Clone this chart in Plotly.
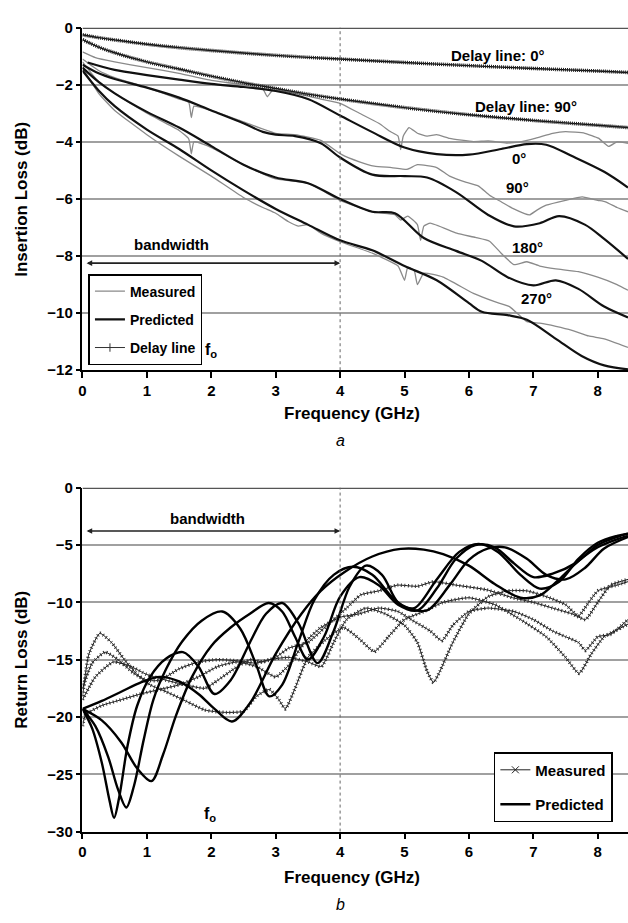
import plotly.graph_objects as go

FONT = "Liberation Sans, Arial, sans-serif"

# ---------------- Panel a : insertion loss (dB) ----------------
f_dl0 = [0, 0.25, 0.5, 1, 1.5, 2, 2.5, 3, 3.5, 4, 5, 6, 7, 8, 8.47]
il_dl0 = [-0.25, -0.35, -0.43, -0.58, -0.7, -0.8, -0.89, -0.97, -1.04, -1.1, -1.22, -1.33, -1.43, -1.52, -1.57]

f_dl90 = [0, 0.25, 0.5, 1, 1.5, 2, 2.5, 3, 3.5, 4, 5, 6, 7, 8, 8.47]
il_dl90 = [-0.42, -0.68, -0.88, -1.2, -1.45, -1.7, -1.93, -2.13, -2.33, -2.5, -2.8, -3.05, -3.25, -3.42, -3.5]

f_p0 = [0.08, 0.5, 1, 1.5, 2, 2.5, 3, 3.5, 4, 4.5, 5, 5.5, 6, 6.5, 6.9, 7.2, 7.6, 8.1, 8.47]
il_p0 = [-1.22, -1.48, -1.66, -1.82, -1.97, -2.08, -2.22, -2.5, -3.08, -3.66, -4.2, -4.43, -4.45, -4.25, -4.08, -4.1, -4.5, -5.05, -5.6]

f_m0 = [0, 0.2, 0.5, 1, 1.5, 2, 2.5, 2.8, 2.87, 2.95, 3.3, 3.7, 4.0, 4.3, 4.6, 4.78, 4.9, 4.94, 4.98, 5.07,
        5.2, 5.35, 5.5, 5.7, 6.07, 6.3, 6.58, 6.8, 7.04, 7.3, 7.5, 7.8, 8.01, 8.17, 8.3, 8.47]
il_m0 = [-0.85, -1.05, -1.2, -1.4, -1.6, -1.85, -2.0, -2.15, -2.42, -2.2, -2.3, -2.5, -2.65, -3.0, -3.35, -3.64, -3.8, -4.27, -3.8, -3.5,
         -3.7, -3.8, -3.75, -3.88, -3.99, -3.97, -4.04, -4.0, -3.87, -3.7, -3.64, -3.7, -3.87, -4.16, -4.0, -4.05]

f_p90 = [0, 0.25, 0.5, 1, 1.5, 2, 2.5, 2.8, 3, 3.3, 3.7, 4, 4.5, 5, 5.35, 5.8, 6.3, 6.7, 7.1, 7.4, 7.8, 8.1, 8.47]
il_p90 = [-1.3, -1.6, -1.8, -2.1, -2.45, -2.9, -3.35, -3.65, -3.75, -3.8, -4.05, -4.55, -5.15, -5.2, -5.25, -5.76, -6.56, -6.96, -6.85, -6.6, -6.9, -7.4, -8.1]

f_m90 = [0, 0.25, 0.5, 1, 1.5, 1.65, 1.69, 1.73, 2, 2.5, 3, 3.3, 3.7, 4.02, 4.3, 4.53, 4.8, 5.04, 5.2, 5.5, 5.7, 5.96,
         6.15, 6.32, 6.5, 6.68, 6.94, 7.05, 7.2, 7.5, 7.76, 8.0, 8.12, 8.3, 8.47]
il_m90 = [-1.1, -1.5, -1.75, -2.1, -2.5, -2.62, -3.15, -2.75, -2.9, -3.3, -3.7, -3.75, -3.95, -4.44, -4.7, -4.85, -4.9, -4.96, -4.8, -4.9, -5.2, -5.42,
          -5.55, -5.87, -6.1, -6.33, -6.56, -6.4, -6.22, -6.05, -5.93, -6.05, -6.1, -6.3, -6.45]

f_p180 = [0, 0.25, 0.5, 1, 1.5, 2, 2.5, 3, 3.5, 4, 4.5, 4.85, 5.3, 5.8, 6.2, 6.6, 7.0, 7.35, 7.7, 8.1, 8.47]
il_p180 = [-1.4, -1.9, -2.3, -2.95, -3.5, -4.15, -4.8, -5.25, -5.45, -6.0, -6.45, -6.5, -7.37, -7.82, -8.17, -8.74, -9.03, -8.85, -9.15, -9.77, -10.15]

f_m180 = [0, 0.25, 0.5, 1, 1.5, 1.65, 1.69, 1.73, 2, 2.5, 3, 3.5, 4, 4.5, 4.85, 4.94, 5.05, 5.2, 5.25, 5.3, 5.4,
          5.81, 6.1, 6.32, 6.5, 6.7, 6.9, 7.1, 7.35, 7.7, 8.0, 8.3, 8.47]
il_m180 = [-1.2, -1.9, -2.3, -3.0, -3.6, -3.9, -4.42, -4.0, -4.2, -4.8, -5.3, -5.45, -6.05, -6.45, -6.55, -6.74, -6.6, -6.9, -7.45, -6.95, -6.85,
           -7.2, -7.35, -7.48, -7.9, -8.3, -8.2, -8.35, -8.45, -8.55, -8.74, -9.0, -9.2]

f_p270 = [0, 0.25, 0.5, 1, 1.5, 2, 2.5, 3, 3.5, 4, 4.5, 5, 5.5, 6, 6.2, 6.6, 6.9, 7.35, 7.75, 8.1, 8.47]
il_p270 = [-1.5, -2.2, -2.75, -3.57, -4.25, -5.0, -5.7, -6.35, -6.9, -7.45, -7.8, -8.35, -8.85, -9.65, -9.95, -10.07, -10.23, -10.9, -11.5, -11.83, -11.97]

f_m270 = [0, 0.25, 0.5, 1, 1.5, 2, 2.5, 2.8, 3.0, 3.2, 3.35, 3.5, 3.7, 4, 4.5, 4.9, 5.0, 5.05, 5.15, 5.2, 5.3,
          5.6, 6.07, 6.4, 6.63, 6.9, 7.1, 7.35, 7.6, 7.86, 8.1, 8.47]
il_m270 = [-1.4, -2.3, -2.9, -3.75, -4.5, -5.2, -5.95, -6.3, -6.5, -6.8, -6.95, -6.9, -7.2, -7.5, -7.9, -8.35, -8.85, -8.4, -8.5, -9.0, -8.6,
           -8.74, -9.31, -9.6, -9.77, -10.3, -10.35, -10.46, -10.6, -10.8, -10.9, -11.2]

# ---------------- Panel b : return loss (dB) ----------------
f_pA = [0, 0.15, 0.3, 0.42, 0.49, 0.57, 0.7, 0.85, 1.05, 1.3, 1.56, 1.8, 2.05, 2.3, 2.6, 2.85, 3.1, 3.35, 3.65, 3.9,
        4.15, 4.4, 4.65, 4.9, 5.15, 5.5, 5.85, 6.15, 6.45, 6.8, 7.1, 7.4, 7.7, 8.0, 8.3, 8.47]
rl_pA = [-19.3, -21, -24, -27.3, -28.8, -27, -22.5, -19, -16.5, -14.9, -14.35, -15.6, -18, -16.8, -13.5, -11.0, -10.06, -11.8, -15.3, -12.5,
         -8.6, -6.8, -7.6, -10.0, -10.5, -8.0, -5.6, -4.9, -5.6, -7.6, -8.8, -8.2, -6.2, -4.8, -4.2, -4.0]

f_pB = [0, 0.2, 0.4, 0.55, 0.68, 0.8, 0.95, 1.1, 1.3, 1.55, 1.85, 2.17, 2.45, 2.7, 2.9, 3.1, 3.35, 3.6, 3.9, 4.2,
        4.5, 4.8, 5.0, 5.35, 5.7, 6.0, 6.3, 6.56, 6.9, 7.2, 7.5, 7.8, 8.1, 8.47]
rl_pB = [-19.3, -20.8, -23.5, -26.3, -27.9, -26, -22, -18.5, -15.8, -13.4, -11.6, -10.8, -12.3, -15.5, -18.2, -17.2, -13.5, -9.8, -7.6, -6.9,
         -7.6, -9.5, -10.4, -10.7, -8.5, -6.3, -5.3, -5.2, -6.2, -7.6, -8.0, -7.0, -5.3, -4.3]

f_pC = [0, 0.3, 0.6, 0.85, 1.07, 1.25, 1.45, 1.7, 2.0, 2.3, 2.6, 2.89, 3.1, 3.3, 3.5, 3.75, 4.0, 4.3, 4.6, 4.9,
        5.2, 5.5, 5.8, 6.1, 6.4, 6.7, 7.0, 7.3, 7.65, 8.0, 8.3, 8.47]
rl_pC = [-19.3, -20.3, -22.2, -24.5, -25.6, -23.3, -19.9, -16.5, -13.8, -12.2, -11.0, -10.06, -10.8, -13.0, -15.0, -13.0, -9.5, -7.8, -8.5, -10.2,
         -10.7, -8.8, -6.2, -5.0, -5.2, -6.6, -7.8, -7.5, -6.6, -5.0, -4.3, -4.0]

f_pD = [0, 0.3, 0.6, 0.9, 1.2, 1.5, 1.8, 2.05, 2.32, 2.6, 3.0, 3.4, 3.7, 4.07, 4.5, 4.94, 5.3, 5.6, 6.0, 6.4,
        6.8, 7.1, 7.4, 7.7, 8.0, 8.3, 8.47]
rl_pD = [-19.3, -18.6, -17.8, -17.0, -16.5, -16.9, -18.0, -19.3, -20.4, -18.8, -14.5, -11.0, -9.0, -7.35, -6.0, -5.34, -5.4, -5.8, -6.8, -8.4,
         -9.6, -9.4, -8.0, -6.4, -5.2, -4.5, -4.2]

f_m1 = [0, 0.1, 0.27, 0.45, 0.65, 0.85, 1.05, 1.3, 1.6, 1.9, 2.2, 2.5, 2.7, 2.9, 3.05, 3.15, 3.3, 3.5, 3.77, 4.05,
        4.3, 4.53, 4.75, 5.0, 5.3, 5.6, 6.0, 6.4, 6.8, 7.2, 7.5, 7.71, 7.9, 8.1, 8.3, 8.47]
rl_m1 = [-18.2, -14.5, -12.7, -13.5, -15.0, -16.3, -17.2, -17.8, -18.6, -19.4, -19.6, -19.5, -18.2, -17.6, -18.5, -19.3, -17.5, -14.8, -13.3, -12.2,
         -13.2, -14.3, -13.0, -11.5, -10.8, -10.0, -9.6, -10.2, -11.5, -13.0, -14.8, -16.2, -14.5, -13.0, -12.4, -11.9]

f_m2 = [0, 0.15, 0.35, 0.55, 0.8, 1.0, 1.2, 1.5, 1.8, 2.1, 2.4, 2.7, 2.9, 3.2, 3.5, 3.71, 3.9, 4.1, 4.4, 4.7,
        5.0, 5.2, 5.35, 5.45, 5.55, 5.75, 6.0, 6.3, 6.6, 6.9, 7.2, 7.5, 7.7, 7.8, 8.0, 8.3, 8.47]
rl_m2 = [-17.5, -15.3, -14.35, -15.0, -16.2, -16.8, -16.8, -15.8, -15.2, -15.0, -15.1, -15.3, -15.0, -14.8, -15.2, -15.6, -13.5, -11.5, -10.5, -11.0,
         -12.0, -13.5, -16.0, -17.0, -16.0, -13.5, -11.0, -9.5, -9.0, -9.0, -9.5, -10.2, -11.2, -10.5, -9.0, -8.5, -8.2]

f_m3 = [0, 0.2, 0.48, 0.75, 1.0, 1.3, 1.6, 1.9, 2.1, 2.3, 2.6, 2.8, 3.0, 3.2, 3.5, 3.8, 4.1, 4.32, 4.6, 4.89,
        5.2, 5.45, 5.8, 6.27, 6.68, 7.0, 7.3, 7.6, 7.81, 8.0, 8.2, 8.47]
rl_m3 = [-18.5, -16.5, -15.2, -15.6, -16.3, -16.8, -17.2, -17.5, -16.8, -16.0, -15.0, -15.2, -14.8, -14.0, -13.5, -12.0, -10.5, -9.35, -9.0, -8.5,
         -8.6, -8.2, -8.5, -8.9, -9.6, -10.0, -10.5, -11.0, -11.5, -10.0, -8.5, -8.0]

f_m4 = [0, 0.05, 0.3, 0.6, 0.9, 1.2, 1.5, 1.8, 2.1, 2.4, 2.7, 3.0, 3.2, 3.45, 3.7, 4.0, 4.3, 4.6, 4.9, 5.1,
        5.4, 5.58, 5.75, 6.0, 6.3, 6.7, 7.0, 7.3, 7.5, 7.7, 7.81, 8.0, 8.2, 8.47]
rl_m4 = [-20.8, -19.8, -19.0, -18.5, -18.0, -17.6, -17.2, -16.5, -15.6, -15.2, -15.6, -16.5, -15.5, -13.5, -12.2, -11.3, -11.0, -10.5, -10.8, -11.5,
         -12.5, -13.35, -12.0, -10.8, -10.5, -10.8, -11.5, -12.5, -13.0, -13.5, -14.2, -13.0, -12.8, -11.5]

x_ticks = [0, 1, 2, 3, 4, 5, 6, 7, 8]
bandwidth_edge = 4

# ---------------- layout geometry ----------------
X0 = 79 / 628
YA = [1 - 368 / 923, 1 - 19 / 923]
YB = [1 - 838 / 923, 1 - 487.7 / 923]

fig = go.Figure()


def line(x, y, xa, ya, color, width, dash=None, smooth=0.9):
    fig.add_trace(go.Scatter(x=x, y=y, xaxis=xa, yaxis=ya, mode="lines",
                             line=dict(color=color, width=width, dash=dash,
                                       shape="spline", smoothing=smooth),
                             showlegend=False, hoverinfo="skip"))


# panel a
for f, v in [(f_m0, il_m0), (f_m90, il_m90), (f_m180, il_m180), (f_m270, il_m270)]:
    line(f, v, "x", "y", "#8a8a8a", 1.3, smooth=0.4)
for f, v in [(f_p0, il_p0), (f_p90, il_p90), (f_p180, il_p180), (f_p270, il_p270)]:
    line(f, v, "x", "y", "#111111", 2.2)
for f, v in [(f_dl0, il_dl0), (f_dl90, il_dl90)]:
    line(f, v, "x", "y", "#111111", 1.4)
    line(f, v, "x", "y", "#222222", 3.6, "1px,1px")

# panel b
for f, v in [(f_m1, rl_m1), (f_m2, rl_m2), (f_m3, rl_m3), (f_m4, rl_m4)]:
    line(f, v, "x2", "y2", "#1a1a1a", 1.0, smooth=0.5)
    line(f, v, "x2", "y2", "#333333", 3.5, "1px,2.5px", smooth=0.5)
for f, v in [(f_pA, rl_pA), (f_pB, rl_pB), (f_pC, rl_pC), (f_pD, rl_pD)]:
    line(f, v, "x2", "y2", "#000000", 2.4)


# legend entries
def legend_entry(name, legend, group, **kw):
    fig.add_trace(go.Scatter(x=[None], y=[None], name=name, legend=legend, legendgroup=group,
                             hoverinfo="skip", **kw))


legend_entry("Measured", "legend", "a1", mode="lines", line=dict(color="#8a8a8a", width=1.3))
legend_entry("Predicted", "legend", "a2", mode="lines", line=dict(color="#111111", width=2.4))
legend_entry("Delay line", "legend", "a3", mode="lines+markers", line=dict(color="#333333", width=1),
             marker=dict(symbol="line-ns-open", size=6, color="#333333", line=dict(width=1, color="#333333")))
legend_entry("Measured", "legend2", "b1", mode="lines+markers", line=dict(color="#222222", width=1),
             marker=dict(symbol="x-thin-open", size=7, color="#222222", line=dict(width=1, color="#222222")))
legend_entry("Predicted", "legend2", "b2", mode="lines", line=dict(color="#000000", width=2.4))

tickfont = dict(family=FONT, size=15, color="black", weight="bold")
xcommon = dict(domain=[X0, 1], range=[0, 8.47], tickvals=x_ticks, ticks="outside", ticklen=6,
               tickwidth=1.5, tickcolor="black", showline=True, linecolor="black", linewidth=1.5,
               showgrid=False, zeroline=False, tickfont=tickfont, fixedrange=True)
ycommon = dict(ticks="outside", ticklen=5, tickwidth=1.5, tickcolor="black", showline=True,
               linecolor="black", linewidth=1.5, showgrid=True, gridcolor="#a0a0a0", gridwidth=1.5,
               zeroline=False, tickfont=tickfont, fixedrange=True)

legend_style = dict(bordercolor="black", borderwidth=1.5, bgcolor="white",
                    itemwidth=30, xanchor="left", yanchor="top")

fig.update_layout(
    width=628, height=923, margin=dict(l=0, r=0, t=0, b=0),
    paper_bgcolor="white", plot_bgcolor="white",
    font=dict(family=FONT, size=15, color="black"),
    xaxis=dict(anchor="y", **xcommon),
    yaxis=dict(anchor="x", domain=YA, range=[-12, 0], dtick=2, **ycommon),
    xaxis2=dict(anchor="y2", **xcommon),
    yaxis2=dict(anchor="x2", domain=YB, range=[-30, 0], dtick=5, **ycommon),
    legend=dict(x=85 / 628, y=1 - 270 / 923, tracegroupgap=7,
                font=dict(family=FONT, size=14, color="black", weight="bold"), **legend_style),
    legend2=dict(x=493 / 628, y=1 - 757 / 923, tracegroupgap=12,
                 font=dict(family=FONT, size=15, color="black", weight="bold"), **legend_style),
)

shapes = []
for yref, xref in [("y", "x"), ("y2", "x2")]:
    shapes.append(dict(type="line", xref=xref, yref=yref, x0=0, x1=8.47, y0=0, y1=0,
                       line=dict(color="#555555", width=2.5)))
    shapes.append(dict(type="line", xref=xref, yref=yref + " domain", x0=bandwidth_edge, x1=bandwidth_edge,
                       y0=0, y1=1, line=dict(color="#666666", width=1, dash="dot")))
fig.update_layout(shapes=shapes)

ann = []


def text(x, y, t, xref="x", yref="y", size=15, **kw):
    ann.append(dict(x=x, y=y, xref=xref, yref=yref, text=t, showarrow=False,
                    xanchor="center", yanchor="middle",
                    font=dict(family=FONT, size=size, color="black"), **kw))


text(6.45, -0.96, "<b>Delay line: 0°</b>")
text(6.89, -2.75, "<b>Delay line: 90°</b>")
text(6.77, -4.6, "<b>0°</b>")
text(6.75, -5.6, "<b>90°</b>")
text(6.91, -7.7, "<b>180°</b>")
text(7.05, -9.48, "<b>270°</b>")
text(1.38, -7.6, "<b>bandwidth</b>")
text(2.0, -11.3, "<b>f<sub>o</sub></b>", size=16)
text(1.94, -2.68, "<b>bandwidth</b>", xref="x2", yref="y2")
text(1.98, -28.5, "<b>f<sub>o</sub></b>", xref="x2", yref="y2", size=16)

# axis titles and captions
text(18 / 628, 1 - 193.5 / 923, "<b>Insertion Loss (dB)</b>", xref="paper", yref="paper", size=17, textangle=-90)
text(18 / 628, 1 - 663 / 923, "<b>Return Loss (dB)</b>", xref="paper", yref="paper", size=17, textangle=-90)
text(350 / 628, 1 - 412 / 923, "<b>Frequency (GHz)</b>", xref="paper", yref="paper", size=17)
text(350 / 628, 1 - 885 / 923, "<b>Frequency (GHz)</b>", xref="paper", yref="paper", size=17)
text(339 / 628, 1 - 440 / 923, "<i>a</i>", xref="paper", yref="paper", size=16)
text(339 / 628, 1 - 912 / 923, "<i>b</i>", xref="paper", yref="paper", size=16)

# bandwidth arrows
for xr, yr, yv in [("x", "y", -8.25), ("x2", "y2", -3.77)]:
    ann.append(dict(x=bandwidth_edge, y=yv, ax=0.04, ay=yv, xref=xr, yref=yr, axref=xr, ayref=yr,
                    text="", showarrow=True, arrowhead=2, startarrowhead=2, arrowside="end+start",
                    arrowsize=0.7, arrowwidth=1.6, arrowcolor="#222222"))

fig.update_layout(annotations=ann)
fig.write_html("out.html")
